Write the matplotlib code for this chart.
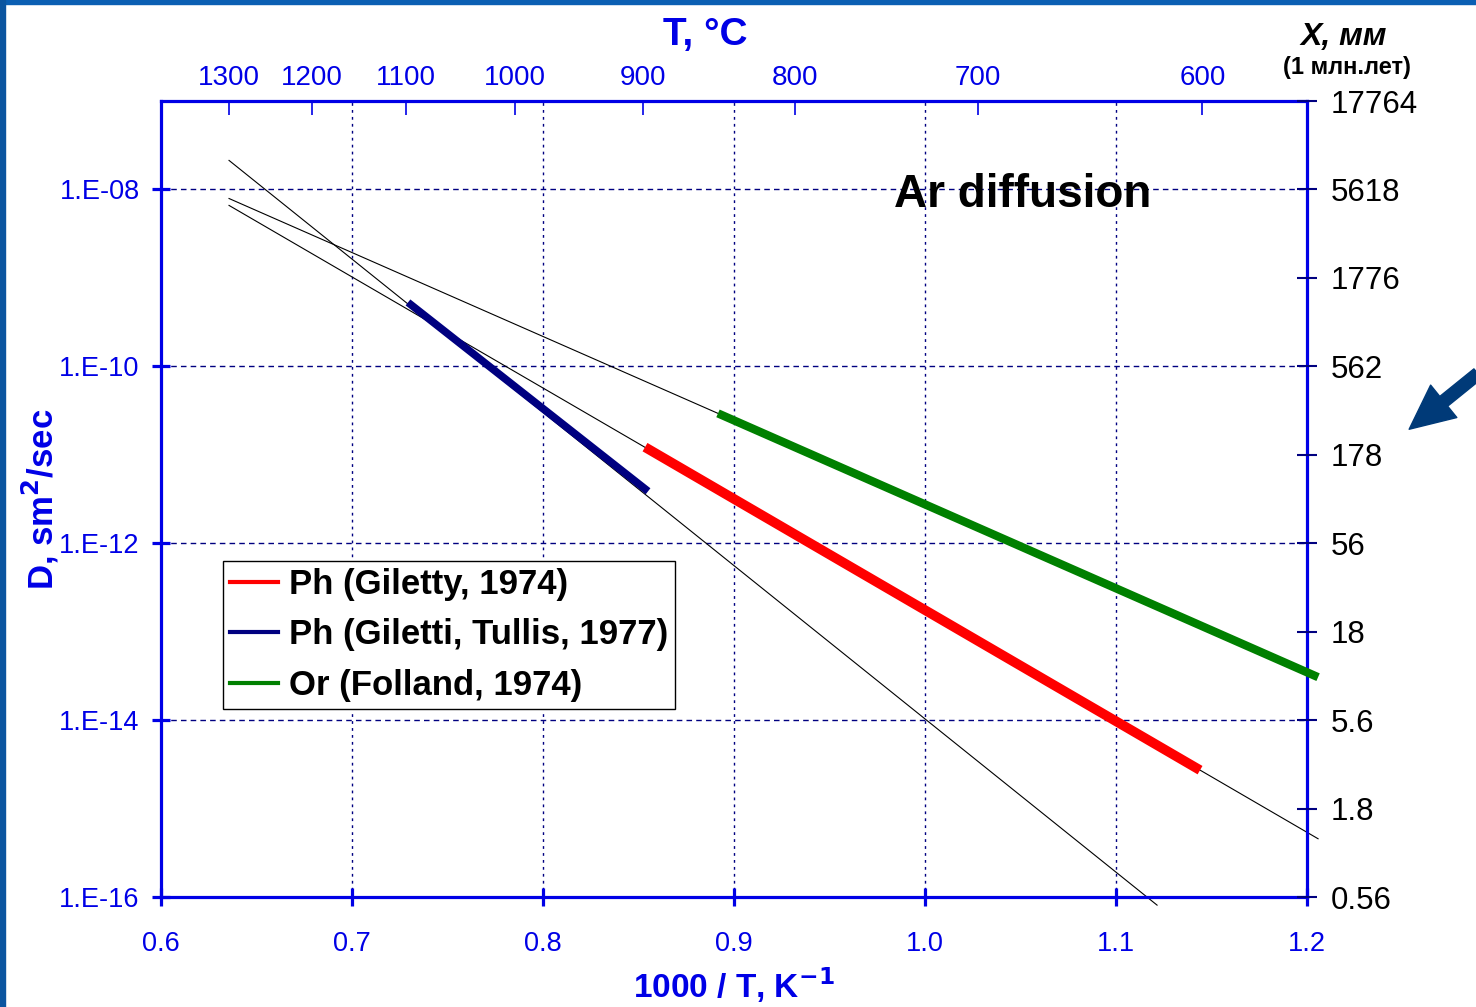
import matplotlib
matplotlib.use('Agg')
import matplotlib.pyplot as plt
from matplotlib.patches import Rectangle, FancyArrowPatch
from matplotlib.lines import Line2D

plt.rcParams['font.family'] = ['Liberation Sans', 'DejaVu Sans']

# fit lines (thin black): 1000/T and D
steep_x = [0.6356, 1.1215]
steep_D = [2.13e-8, 8.1e-17]
red_fit_x = [0.6356, 1.2058]
red_fit_D = [6.6e-9, 4.56e-16]
green_fit_x = [0.6356, 0.8916]
green_fit_D = [7.9e-9, 2.94e-11]

# measured ranges (thick coloured)
red_x = [0.8534, 1.144]
red_D = [1.22e-11, 2.72e-15]
blue_x = [0.7293, 0.855]
blue_D = [5.28e-10, 3.87e-12]
green_x = [0.8916, 1.2058]
green_D = [2.94e-11, 3.06e-14]

labels = ['Ph (Giletty, 1974)', 'Ph (Giletti, Tullis, 1977)', 'Or (Folland, 1974)']

# axis ticks
x_ticks = [0.6, 0.7, 0.8, 0.9, 1.0, 1.1, 1.2]
x_ticklabels = ['0.6', '0.7', '0.8', '0.9', '1.0', '1.1', '1.2']
y_ticks = [1e-8, 1e-10, 1e-12, 1e-14, 1e-16]
y_ticklabels = ['1.E-08', '1.E-10', '1.E-12', '1.E-14', '1.E-16']
t_celsius = [1300, 1200, 1100, 1000, 900, 800, 700, 600]
right_ticks = [1e-7, 1e-8, 1e-9, 1e-10, 1e-11, 1e-12, 1e-13, 1e-14, 1e-15, 1e-16]
right_labels = ['17764', '5618', '1776', '562', '178', '56', '18', '5.6', '1.8', '0.56']

BLUE = '#0000e6'
NAVY = '#000080'
RED = '#ff0000'
GREEN = '#008000'

fig = plt.figure(figsize=(14.76, 10.07), dpi=100)
fig.patch.set_facecolor('white')
ax = fig.add_axes([0.1091, 0.1092, 0.8855 - 0.1091, 0.8997 - 0.1092])
ax.set_yscale('log')
ax.set_xlim(0.6, 1.2)
ax.set_ylim(1e-16, 1e-7)

ax.plot(steep_x, steep_D, color='black', lw=0.8, clip_on=False)
ax.plot(red_fit_x, red_fit_D, color='black', lw=0.8, clip_on=False)
ax.plot(green_fit_x, green_fit_D, color='black', lw=0.8, clip_on=False)
ax.plot(red_x, red_D, color=RED, lw=7, solid_capstyle='butt', zorder=3)
ax.plot(blue_x, blue_D, color=NAVY, lw=5.5, solid_capstyle='butt', zorder=3)
ax.plot(green_x, green_D, color=GREEN, lw=6, solid_capstyle='butt', zorder=3, clip_on=False)

# grid
for yv in y_ticks[:-1]:
    ax.axhline(yv, color=NAVY, lw=1, ls=(0, (4, 3)), zorder=1)
for xv in x_ticks[1:-1]:
    ax.axvline(xv, color=NAVY, lw=1, ls=(0, (2, 3)), zorder=1)

for s in ax.spines.values():
    s.set_color(BLUE)
    s.set_linewidth(2.3)

ax.set_xticks(x_ticks)
ax.set_xticklabels(x_ticklabels)
ax.set_yticks(y_ticks)
ax.set_yticklabels(y_ticklabels)
ax.minorticks_off()
ax.tick_params(axis='both', direction='inout', length=13, width=2.3, color=BLUE,
               labelcolor=BLUE, labelsize=19.5)
ax.tick_params(axis='x', pad=18)
ax.tick_params(axis='y', pad=9)

ax.set_xlabel('1000 / T, K$^{\\mathbf{-1}}$', fontsize=24, fontweight='bold', color=BLUE, labelpad=6)
ax.set_ylabel('D, sm$^{\\mathbf{2}}$/sec', fontsize=25, fontweight='bold', color=BLUE)
ax.yaxis.set_label_coords(-0.087, 0.5)

# top axis in degrees C
axt = ax.twiny()
axt.set_xlim(ax.get_xlim())
axt.set_xticks([1000.0 / (t + 273.15) for t in t_celsius])
axt.set_xticklabels([str(t) for t in t_celsius])
axt.tick_params(axis='x', direction='in', length=10, width=1.2, color=BLUE,
                labelcolor=BLUE, labelsize=20, pad=7)
for s in axt.spines.values():
    s.set_visible(False)

# right axis: diffusion distance
axr = ax.twinx()
axr.set_yscale('log')
axr.set_ylim(ax.get_ylim())
axr.set_yticks(right_ticks)
axr.set_yticklabels(right_labels)
axr.minorticks_off()
axr.tick_params(axis='y', direction='inout', length=14, width=1.5, color=NAVY,
                labelcolor='black', labelsize=22.5, pad=10)
for s in axr.spines.values():
    s.set_visible(False)

handles = [Line2D([], [], color=c, lw=3) for c in [RED, NAVY, GREEN]]
leg = ax.legend(handles, labels, loc='upper left', bbox_to_anchor=(0.054, 0.422),
                prop={'size': 25, 'weight': 'bold'}, frameon=True, fancybox=False,
                framealpha=1, edgecolor='black', handlelength=1.4, handletextpad=0.3,
                labelspacing=0.5, borderpad=0.2, borderaxespad=0)
leg.get_frame().set_linewidth(1)

ax.text(0.752, 0.882, 'Ar diffusion', transform=ax.transAxes, fontsize=33,
        fontweight='bold', ha='center', va='center', color='black')

fig.text(0.4776, 0.965, 'T, °C', fontsize=28, fontweight='bold', color=BLUE,
         ha='center', va='center')
fig.text(0.91, 0.963, 'X, мм', fontsize=23, fontweight='bold', style='italic',
         ha='center', va='center')
fig.text(0.9126, 0.933, '(1 млн.лет)', fontsize=17, fontweight='bold',
         ha='center', va='center')

# slide frame
fig.patches.append(Rectangle((0, 1 - 4 / 1007), 1, 4 / 1007, transform=fig.transFigure,
                             color='#0b5fb3', zorder=0))
fig.patches.append(Rectangle((0, 0), 5 / 1476, 1, transform=fig.transFigure,
                             color='#0b55a0', zorder=0))

arrow = FancyArrowPatch((1480 / 1476, 1 - 372 / 1007), (1407 / 1476, 1 - 431 / 1007),
                        transform=fig.transFigure,
                        arrowstyle='simple,head_length=1.6,head_width=1.5,tail_width=0.45',
                        mutation_scale=20, color='#003a78')
fig.patches.append(arrow)

fig.savefig('out.png', dpi=100)
